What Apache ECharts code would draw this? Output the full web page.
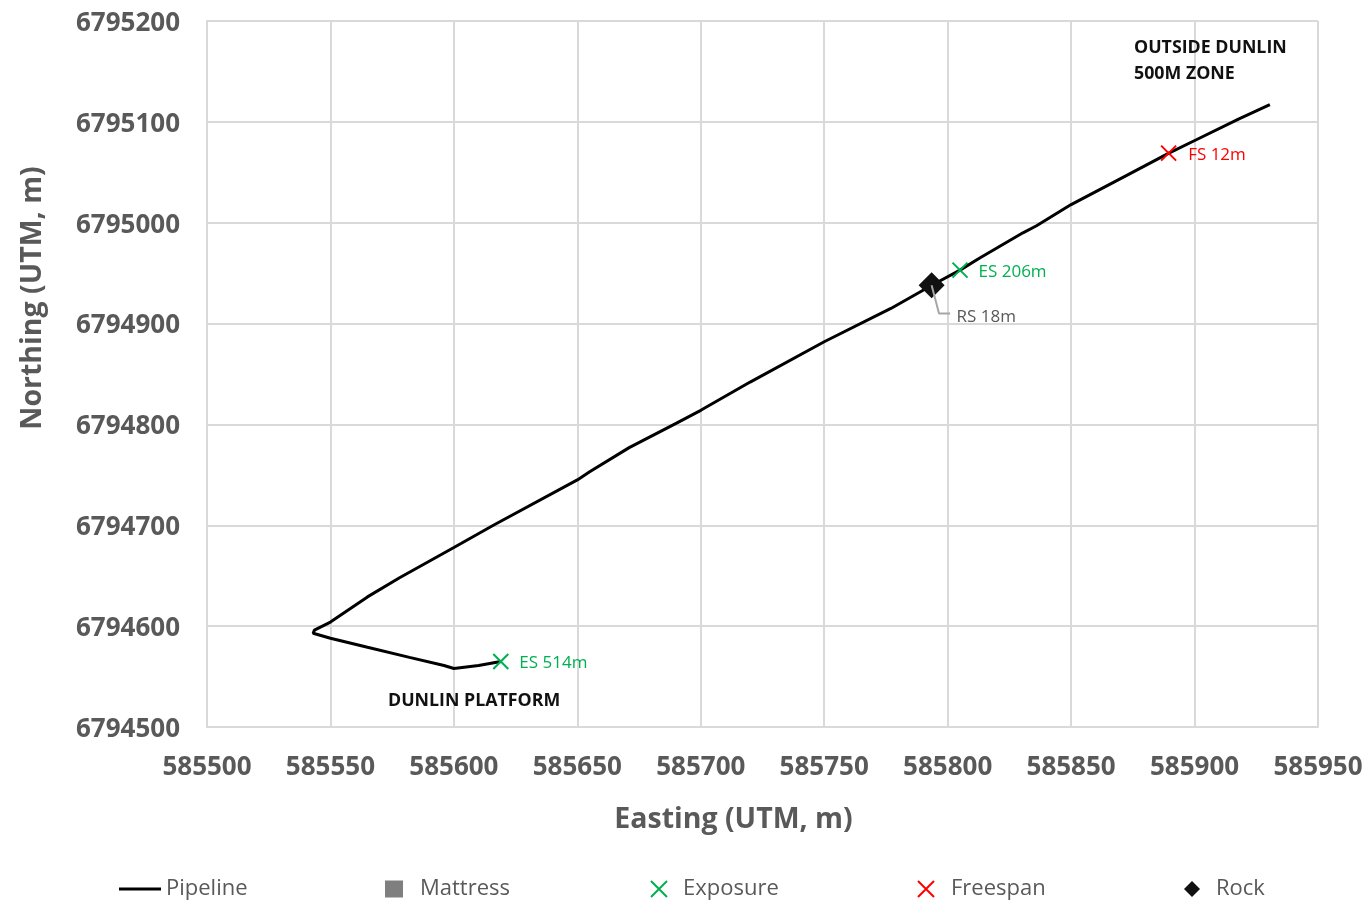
<!DOCTYPE html>
<html><head><meta charset="utf-8">
<style>html,body{margin:0;padding:0;background:#fff}#c{width:1368px;height:901px}</style>
<script src="https://cdn.jsdelivr.net/npm/echarts@6/dist/echarts.min.js"></script>
</head><body><div id="c"></div>
<script>
const pipelineEasting=[585619,585610,585600,585596,585582,585565,585550,585543,585543.5,585550,585565,585578,585600,585616,585650,585655,585671,585690,585700,585720,585750,585777,585793.6,585805,585813,585830.5,585836,585850,585871,585889.6,585900.5,585918,585930.5];
const pipelineNorthing=[6794565,6794561,6794558,6794561,6794569,6794579,6794588,6794593,6794596,6794604,6794629,6794648,6794678,6794700,6794745,6794753,6794777,6794801,6794814,6794842,6794882,6794915,6794938,6794953,6794965,6794990,6794997,6795018,6795045,6795069,6795082,6795103,6795117];
const exposurePoints=[[585805,6794953,'ES 206m'],[585619,6794565,'ES 514m']];
const freespanPoints=[[585889.5,6795069,'FS 12m']];
const rockPoints=[[585793.5,6794938,'RS 18m']];
const rockCallout=[[585793.5,6794938],[585796.5,6794910],[585801,6794910]];
const mattressPoints=[];
const pipeline=pipelineEasting.map((x,i)=>[x,pipelineNorthing[i]]);
const cross='path://M0 0L10 10M10 0L0 10';
const FONT='"Open Sans"';
const TXT='#595959';
const axisCommon={
  type:'value',
  axisLine:{show:true,lineStyle:{color:'#d9d9d9',width:2}},
  axisTick:{show:false},
  splitLine:{show:true,lineStyle:{color:'#d9d9d9',width:2}},
  axisLabel:{color:TXT,fontFamily:FONT,fontWeight:'bold',fontSize:26,formatter:v=>String(v)},
  nameLocation:'middle',
  nameTextStyle:{color:TXT,fontFamily:FONT,fontWeight:'bold',fontSize:28.5}
};
function legendAt(name,left,icon,w,h,gap){
  return {data:[{name,icon}],left,top:878,itemWidth:w,itemHeight:h,itemGap:0,padding:0,
    textStyle:{color:TXT,fontFamily:FONT,fontSize:22,padding:[0,0,0,gap]}};
}
const chart=echarts.init(document.getElementById('c'),null,{renderer:'canvas'});
chart.setOption({
  animation:false,
  backgroundColor:'#fff',
  grid:{left:207,right:50,top:21,height:706,containLabel:false,outerBoundsMode:'none'},
  xAxis:Object.assign({},axisCommon,{min:585500,max:585950,interval:50,name:'Easting (UTM, m)',nameGap:78,
    nameTextStyle:Object.assign({},axisCommon.nameTextStyle,{padding:[0,58,0,0]}),
    axisLabel:Object.assign({},axisCommon.axisLabel,{margin:28})}),
  yAxis:Object.assign({},axisCommon,{min:6794500,max:6795200,interval:100,name:'Northing (UTM, m)',nameGap:160,
    nameTextStyle:Object.assign({},axisCommon.nameTextStyle,{padding:[0,0,0,152]}),
    axisLabel:Object.assign({},axisCommon.axisLabel,{margin:27,
      formatter:v=>'{v|'+v+'}',
      rich:{v:{color:TXT,fontFamily:FONT,fontWeight:'bold',fontSize:26,padding:[5,0,0,0]}}})}),
  legend:[
    legendAt('Pipeline',119,'path://M0 0H44V3H0Z',42,3,0),
    legendAt('Mattress',385,'rect',18,17,12),
    legendAt('Exposure',650,cross,16,16,11),
    legendAt('Freespan',917,cross,16,16,12),
    legendAt('Rock',1184,'diamond',16,16,11)
  ],
  series:[
    {name:'Pipeline',type:'line',data:pipeline,showSymbol:false,symbol:'none',
     lineStyle:{color:'#000',width:3},itemStyle:{color:'#000'},z:2},
    {name:'RS callout',type:'line',data:rockCallout,showSymbol:false,symbol:'none',
     lineStyle:{color:'#a6a6a6',width:2},z:5},
    {name:'Mattress',type:'scatter',data:mattressPoints,symbol:'rect',symbolSize:16,itemStyle:{color:'#7f7f7f',opacity:1}},
    {name:'Exposure',type:'scatter',data:exposurePoints,symbol:cross,symbolSize:15,
     itemStyle:{color:'rgba(0,0,0,0)',borderColor:'#00b050',borderWidth:2,opacity:1},z:4,
     labelLayout:{dy:2},
     label:{show:true,position:'right',distance:10,color:'#00b050',fontFamily:FONT,fontSize:17,formatter:p=>p.data[2]}},
    {name:'Freespan',type:'scatter',data:freespanPoints,symbol:cross,symbolSize:15,
     itemStyle:{color:'rgba(0,0,0,0)',borderColor:'#ff0000',borderWidth:2,opacity:1},z:4,
     labelLayout:{dy:2},
     label:{show:true,position:'right',distance:11,color:'#ff0000',fontFamily:FONT,fontSize:17,formatter:p=>p.data[2]}},
    {name:'Rock',type:'scatter',data:rockPoints,symbol:'diamond',symbolSize:26,itemStyle:{color:'#111',opacity:1},z:3,
     label:{show:true,position:'right',distance:0,color:TXT,fontFamily:FONT,fontSize:17,formatter:p=>p.data[2]},
     labelLayout:{dx:12,dy:32}}
  ],
  graphic:[
    {type:'text',z:100,left:1134,top:35,style:{text:'OUTSIDE DUNLIN\n500M ZONE',fill:'#111',font:'bold 17.8px "Open Sans"',lineHeight:26}},
    {type:'text',z:100,left:388,top:692,style:{text:'DUNLIN PLATFORM',fill:'#111',font:'bold 17.8px "Open Sans"'}}
  ]
});
</script></body></html>
